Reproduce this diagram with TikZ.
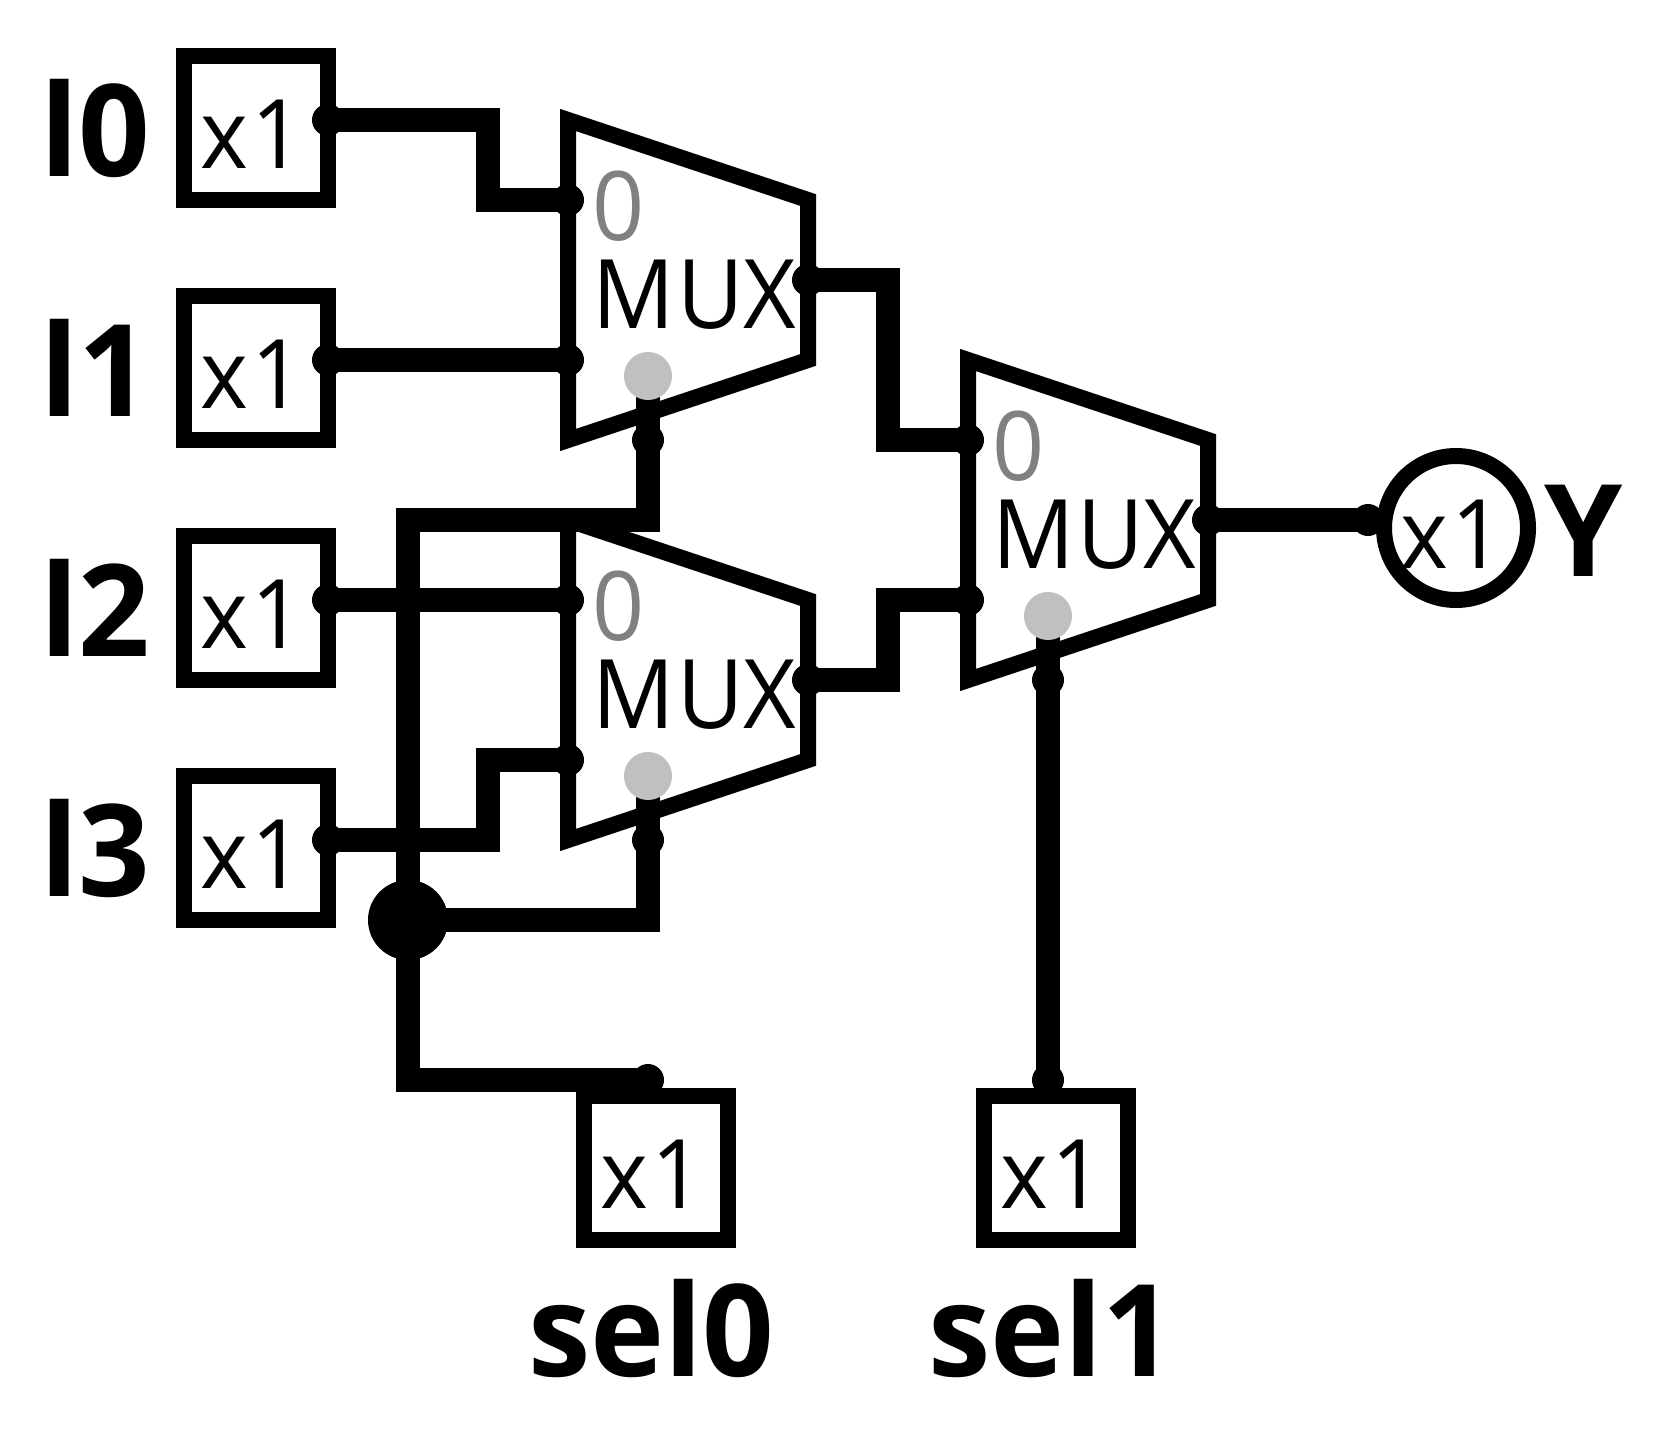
\documentclass[tikz,border=0pt]{standalone}
\usepackage{fontspec}
\setmainfont{Open Sans}[FakeStretch=0.95]
\newfontfamily\labelfont{Open Sans}[FakeStretch=0.98]
\tikzset{
  wire/.style={line width=24pt,line join=miter,line cap=butt,black},
  boxline/.style={line width=16pt,line join=miter,black},
  iobox/.style={draw=black,line width=16pt,rectangle,minimum width=144pt,minimum height=144pt,inner sep=0pt,outer sep=0pt},
  outcircle/.style={draw=black,line width=16pt,circle,minimum size=144pt,inner sep=0pt,outer sep=0pt},
  pin/.style={circle,fill=black,minimum size=32pt,inner sep=0pt,outer sep=0pt},
  junction/.style={circle,fill=black,minimum size=80pt,inner sep=0pt,outer sep=0pt},
  selpin/.style={circle,fill=selgrey,minimum size=48pt,inner sep=0pt,outer sep=0pt},
  small/.style={anchor=base west,inner sep=0pt,outer sep=0pt,font=\fontsize{96pt}{96pt}\selectfont},
  zero/.style={small,text=zerogrey},
  big/.style={anchor=base west,inner sep=0pt,outer sep=0pt,font=\fontsize{128pt}{128pt}\labelfont\bfseries},
}
\definecolor{selgrey}{HTML}{C0C0C0}
\definecolor{zerogrey}{HTML}{808080}
\newcommand{\xone}{x\kern4pt 1}
\newcommand{\muxtxt}{M\kern3pt U\kern0pt X}
\begin{document}
\begin{tikzpicture}[x=1pt,y=-1pt]
\useasboundingbox (0,0) rectangle (1656,1448);
\fill[white] (0,0) rectangle (1656,1448);
% input and output boxes
\node[iobox] (b0) at (256,128) {};
\node[iobox] (b1) at (256,368) {};
\node[iobox] (b2) at (256,608) {};
\node[iobox] (b3) at (256,848) {};
\node[iobox] (bs0) at (656,1168) {};
\node[iobox] (bs1) at (1056,1168) {};
\node[outcircle] (by) at (1456,528) {};
% multiplexers
\draw[boxline] (568,120) -- (808,200) -- (808,360) -- (568,440) -- cycle;
\draw[boxline] (568,520) -- (808,600) -- (808,760) -- (568,840) -- cycle;
\draw[boxline] (968,360) -- (1208,440) -- (1208,600) -- (968,680) -- cycle;
% pins
\node[pin] (i0) at (328,120) {};
\node[pin] (i1) at (328,360) {};
\node[pin] (i2) at (328,600) {};
\node[pin] (i3) at (328,840) {};
\node[pin] (ma) at (568,200) {};
\node[pin] (mb) at (568,360) {};
\node[pin] (mc) at (568,600) {};
\node[pin] (md) at (568,760) {};
\node[pin] (me) at (968,440) {};
\node[pin] (mf) at (968,600) {};
\node[pin] (oa) at (808,280) {};
\node[pin] (ob) at (808,680) {};
\node[pin] (oc) at (1208,520) {};
\node[pin] (oy) at (1368,520) {};
\node[pin] (sa) at (648,440) {};
\node[pin] (sb) at (648,840) {};
\node[pin] (sc) at (1048,680) {};
\node[pin] (s0) at (648,1080) {};
\node[pin] (s1) at (1048,1080) {};
\node[junction] (jn) at (408,920) {};
% wires
\coordinate (ga) at (648,376);
\coordinate (gb) at (648,776);
\coordinate (gc) at (1048,616);
\draw[wire] (i0.center) -- (488,120) -- (488,200) -- (ma.center);
\draw[wire] (i1.center) -- (mb.center);
\draw[wire] (i2.center) -- (mc.center);
\draw[wire] (i3.center) -- (488,840) -- (488,760) -- (md.center);
\draw[wire] (oa.center) -- (888,280) -- (888,440) -- (me.center);
\draw[wire] (ob.center) -- (888,680) -- (888,600) -- (mf.center);
\draw[wire] (oc.center) -- (oy.center);
\draw[wire] (ga) -- (648,520) -- (408,520) -- (408,1080) -- (s0.center);
\draw[wire] (jn.center) -- (648,920) -- (gb);
\draw[wire] (gc) -- (s1.center);
% select pins
\node[selpin] (ka) at (ga) {};
\node[selpin] (kb) at (gb) {};
\node[selpin] (kc) at (gc) {};
% texts
\node[small] (t0) at (200,168) {\xone};
\node[small] (t1) at (200,408) {\xone};
\node[small] (t2) at (200,648) {\xone};
\node[small] (t3) at (200,888) {\xone};
\node[small] (ts0) at (600,1208) {\xone};
\node[small] (ts1) at (1000,1208) {\xone};
\node[small] (ty) at (1400,568) {\xone};
\node[zero] (za) at (592,240) {0};
\node[zero] (zb) at (592,640) {0};
\node[zero] (zc) at (992,480) {0};
\node[small] (xa) at (592,328) {\muxtxt};
\node[small] (xb) at (592,728) {\muxtxt};
\node[small] (xc) at (992,568) {\muxtxt};
\node[big] (l0) at (40,176) {l0};
\node[big] (l1) at (40,416) {l1};
\node[big] (l2) at (40,656) {l2};
\node[big] (l3) at (40,896) {l3};
\node[big] (ly) at (1544,576) {Y};
\node[big] (ls0) at (528,1376) {sel0};
\node[big] (ls1) at (928,1376) {sel1};
\end{tikzpicture}
\end{document}
